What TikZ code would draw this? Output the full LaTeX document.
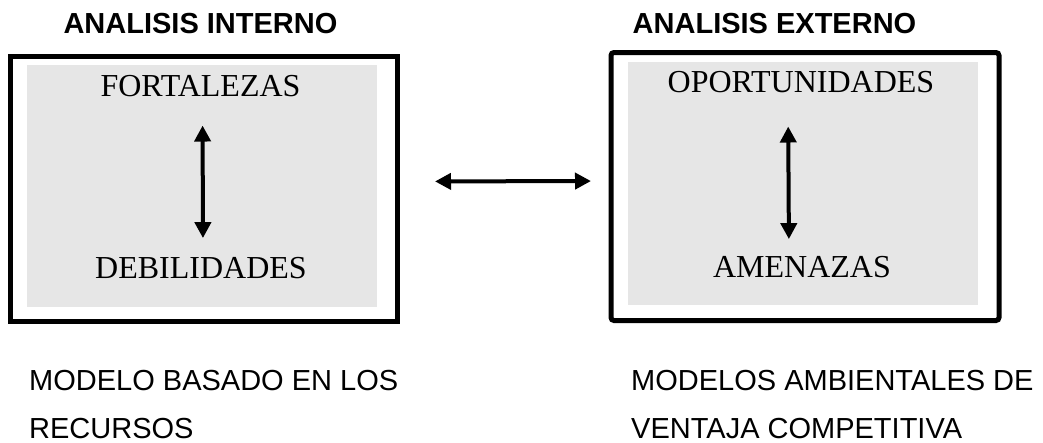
\documentclass[tikz,border=0pt]{standalone}
\usepackage{fontspec}
\setmainfont{Liberation Serif}
\setsansfont{Liberation Sans}
\usetikzlibrary{arrows.meta}
\definecolor{panelgray}{RGB}{230,230,230}
\tikzset{
  framebox/.style={draw,line width=5pt,fill=white,inner sep=0pt},
  panel/.style={fill=panelgray,inner sep=0pt},
  swotlbl/.style={font=\fontsize{32}{38}\selectfont,inner sep=0pt,anchor=base},
  headlbl/.style={font=\sffamily\bfseries\fontsize{29}{35}\selectfont,inner sep=0pt,anchor=base},
  modellbl/.style={font=\sffamily\fontsize{29}{48}\selectfont,inner sep=0pt,align=left,anchor=base west},
  dblarrow/.style={{Triangle[length=16pt,width=16pt]}-{Triangle[length=16pt,width=16pt]},line width=4pt}
}

\begin{document}
\begin{tikzpicture}[x=1pt,y=-1pt]
  \useasboundingbox (0,0) rectangle (1043,442);
  % analisis interno
  \node[headlbl] (inthead) at (200.5,33) {ANALISIS INTERNO};
  \node[framebox,minimum width=387pt,minimum height=265pt] (intbox) at (204,188.5) {};
  \node[panel,minimum width=350pt,minimum height=242pt] (intpanel) at (202,186) {};
  \node[swotlbl] (fort) at (200.5,96) {FORTALEZAS};
  \node[swotlbl] (deb) at (201,278) {DEBILIDADES};
  \draw[dblarrow,shorten <=29pt,shorten >=18.5pt]
    ([xshift=2pt]fort.south) -- ([xshift=2pt]deb.north);
  % analisis externo
  \node[headlbl] (exthead) at (774.5,33) {ANALISIS EXTERNO};
  \node[framebox,rounded corners=3pt,minimum width=388pt,minimum height=268pt] (extbox) at (805,186.5) {};
  \node[panel,minimum width=350pt,minimum height=243pt] (extpanel) at (803,183.5) {};
  \node[swotlbl] (opor) at (801,92) {OPORTUNIDADES};
  \node[swotlbl] (amen) at (802,277) {AMENAZAS};
  \draw[dblarrow,shorten <=34pt,shorten >=16.5pt]
    ([xshift=-13pt]opor.south) -- ([xshift=-13pt]amen.north);
  % relacion entre ambos
  \draw[dblarrow,shorten <=35pt,shorten >=17.5pt]
    ([yshift=7pt]intbox.east) -- ([yshift=5.5pt]extbox.west);
  % base = ultima linea
  \node[modellbl] (intmodel) at (29,438) {MODELO BASADO EN LOS\\RECURSOS};
  \node[modellbl] (extmodel) at (631,438) {MODELOS AMBIENTALES DE\\VENTAJA COMPETITIVA};
\end{tikzpicture}
\end{document}
